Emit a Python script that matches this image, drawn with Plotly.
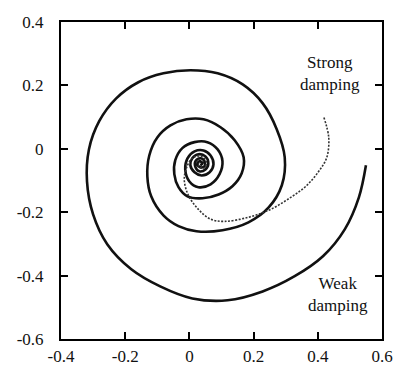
import plotly.graph_objects as go

# Phase-plane trajectories of a damped oscillator (position vs. velocity)
weak_x = [0.550, 0.528, 0.484, 0.416, 0.328, 0.228, 0.119, 0.009, -0.091, -0.181,
          -0.256, -0.300, -0.319, -0.313, -0.281, -0.228, -0.159, -0.081, 0.003, 0.088,
          0.166, 0.228, 0.272, 0.297, 0.288, 0.247, 0.184, 0.103, 0.022, -0.034,
          -0.081, -0.119, -0.131, -0.125, -0.100, -0.059, -0.009, 0.044, 0.097, 0.141,
          0.169, 0.163, 0.134, 0.091, 0.041, -0.006, -0.034, -0.047, -0.044, -0.022,
          0.016, 0.056, 0.088, 0.103, 0.094, 0.066, 0.028, 0.000, -0.013, -0.006,
          0.016, 0.044, 0.066, 0.075, 0.063, 0.038, 0.016, 0.003, 0.009, 0.028,
          0.050, 0.059, 0.050, 0.031, 0.019, 0.019, 0.034, 0.047, 0.047, 0.034,
          0.025, 0.031, 0.041, 0.034]
weak_y = [-0.052, -0.153, -0.254, -0.339, -0.402, -0.450, -0.478, -0.472, -0.434, -0.380,
          -0.301, -0.207, -0.103, -0.002, 0.087, 0.159, 0.210, 0.238, 0.248, 0.238,
          0.203, 0.144, 0.062, -0.027, -0.115, -0.185, -0.232, -0.257, -0.260, -0.244,
          -0.210, -0.150, -0.087, -0.021, 0.036, 0.074, 0.093, 0.093, 0.068, 0.027,
          -0.027, -0.077, -0.118, -0.144, -0.156, -0.150, -0.121, -0.080, -0.036, 0.002,
          0.021, 0.021, -0.002, -0.039, -0.080, -0.112, -0.121, -0.103, -0.065, -0.030,
          -0.008, -0.005, -0.021, -0.049, -0.074, -0.084, -0.074, -0.052, -0.030, -0.017,
          -0.024, -0.046, -0.065, -0.071, -0.058, -0.039, -0.030, -0.039, -0.055, -0.058,
          -0.049, -0.039, -0.046, -0.052]

strong_x = [0.419, 0.434, 0.428, 0.403, 0.363, 0.316, 0.253, 0.184, 0.109, 0.066,
            0.028, -0.003, -0.016, -0.006, 0.013, 0.038, 0.053, 0.044, 0.028, 0.034]
strong_y = [0.099, 0.036, -0.027, -0.071, -0.118, -0.153, -0.191, -0.216, -0.229, -0.222,
            -0.191, -0.147, -0.096, -0.052, -0.027, -0.024, -0.043, -0.062, -0.055, -0.046]

tick_vals_x = [-0.4, -0.2, 0, 0.2, 0.4, 0.6]
tick_text_x = ["-0.4", "-0.2", "0", "0.2", "0.4", "0.6"]
tick_vals_y = [-0.6, -0.4, -0.2, 0, 0.2, 0.4]
tick_text_y = ["-0.6", "-0.4", "-0.2", "0", "0.2", "0.4"]

serif = "Times New Roman"
ink = "#111111"

fig = go.Figure()
fig.add_trace(go.Scatter(
    x=weak_x, y=weak_y, mode="lines",
    line=dict(color=ink, width=2.6, shape="spline", smoothing=1.0),
    hoverinfo="skip", showlegend=False))
fig.add_trace(go.Scatter(
    x=strong_x, y=strong_y, mode="lines",
    line=dict(color="#333333", width=1.6, dash="2px,1.5px", shape="spline", smoothing=1.0),
    hoverinfo="skip", showlegend=False))

labels = [("Strong<br>damping", 0.4375, 0.238), ("Weak<br>damping", 0.4625, -0.459)]
for txt, lx, ly in labels:
    fig.add_annotation(x=lx, y=ly, text=txt, showarrow=False,
                       xanchor="center", yanchor="middle", align="center",
                       font=dict(family=serif, size=17, color=ink))

axis_common = dict(
    ticks="inside", ticklen=7, tickwidth=1.5, tickcolor="black",
    showline=True, linewidth=2, linecolor="black", mirror="ticks",
    showgrid=False, zeroline=False, automargin=False,
    tickfont=dict(family=serif, size=17, color=ink),
)
fig.update_xaxes(range=[-0.4, 0.6], tickvals=tick_vals_x, ticktext=tick_text_x,
                 ticklabelstandoff=1, **axis_common)
fig.update_yaxes(range=[-0.6, 0.4], tickvals=tick_vals_y, ticktext=tick_text_y,
                 ticklabelstandoff=12, **axis_common)

fig.update_layout(
    width=396, height=366,
    margin=dict(l=61, r=14, t=22, b=27),
    paper_bgcolor="white", plot_bgcolor="white",
    font=dict(family=serif, color=ink),
)

fig.write_html("out.html")
